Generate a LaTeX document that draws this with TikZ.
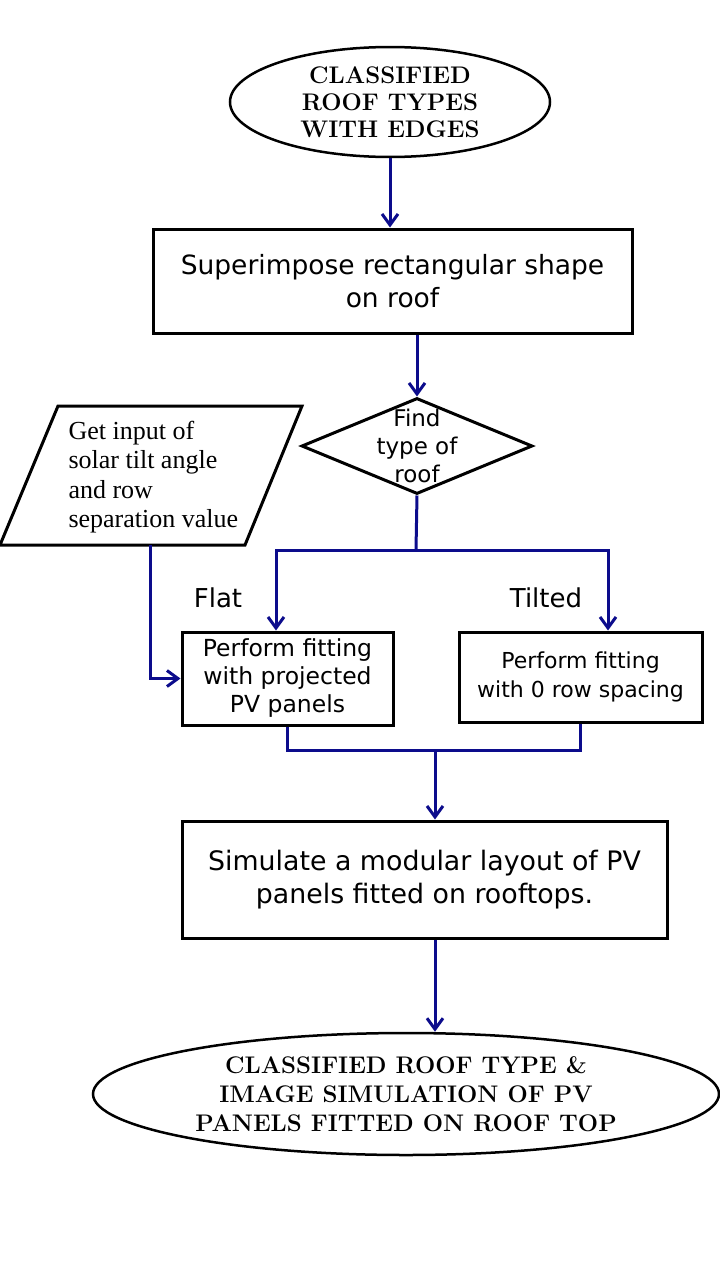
\documentclass[tikz,border=0pt]{standalone}
\usepackage{fontspec}
\usepackage{tikz}
\usetikzlibrary{arrows.meta,calc,positioning,shapes.geometric}
\newfontfamily\comicfont{DejaVu Sans}
\newfontfamily\timesfont{Liberation Serif}
\definecolor{flow}{RGB}{12,12,140}

\begin{document}
\begin{tikzpicture}[x=1pt,y=-1pt,
  box/.style={draw,line width=3pt,rectangle,align=center,font=\comicfont},
  term/.style={draw,line width=2.5pt,ellipse,align=center},
  conn/.style={draw=flow,line width=3pt},
  arr/.style={conn,-{Straight Barb[length=11pt,width=16pt,line width=3pt]}}]
  \useasboundingbox[fill=white] (0,0) rectangle (720,1280);
  % terminals and process boxes
  \node[term,minimum width=320pt,minimum height=70pt,font=\fontsize{24}{27}\selectfont\bfseries] (start) at (390,102) {CLASSIFIED\\ROOF TYPES\\WITH EDGES};
  \node[box,minimum width=479pt,minimum height=104pt,font=\comicfont\fontsize{26.5}{33}\selectfont] (sup) at (392.5,281) {Superimpose rectangular shape\\on roof};
  \node[draw,line width=3pt,diamond,minimum width=231pt,minimum height=96pt,inner sep=0pt] (find) at (417,446) {};
  \node[font=\comicfont\fontsize{23}{28}\selectfont,align=center] (findtxt) at (417,446) {Find\\type of\\roof};
  % input parallelogram
  \coordinate (inTL) at (58,406); \coordinate (inTR) at (302,406);
  \coordinate (inBR) at (245,545); \coordinate (inBL) at (0,545);
  \draw[line width=3pt,line join=miter] (inTL) -- (inTR) -- (inBR) -- (inBL) -- cycle;
  \node[font=\timesfont\fontsize{26}{29.5}\selectfont,align=left,anchor=west] (input) at (65,477) {Get input of\\solar tilt angle\\and row\\separation value};
  \coordinate (infoot) at (150,545);
  \node[box,minimum width=211pt,minimum height=93pt,font=\comicfont\fontsize{23.5}{28}\selectfont] (flat) at (287.5,678.5) {Perform fitting\\with projected\\PV panels};
  \node[box,minimum width=243pt,minimum height=90pt,font=\comicfont\fontsize{22}{29}\selectfont] (tilt) at (580.5,677) {Perform fitting\\with 0 row spacing};
  \node[box,minimum width=485pt,minimum height=117pt,font=\comicfont\fontsize{26.8}{33}\selectfont] (sim) at (424.5,879.5) {Simulate a modular layout of PV\\panels fitted on rooftops.};
  \node[term,minimum width=626pt,minimum height=122pt,font=\fontsize{24}{29}\selectfont\bfseries] (result) at (406,1094) {CLASSIFIED ROOF TYPE \&\\IMAGE SIMULATION OF PV\\PANELS FITTED ON ROOF TOP};
  \node[font=\comicfont\fontsize{26}{30}\selectfont] (flatlbl) at (218,598) {Flat};
  \node[font=\comicfont\fontsize{26}{30}\selectfont] (tiltlbl) at (546,598) {Tilted};
  % connectors
  \coordinate (split) at (416,550);
  \coordinate (merge) at (435,750);
  \draw[arr] (start.south) -- (start.south |- sup.north);
  \draw[arr] (find.north |- sup.south) -- (find.north);
  \draw[conn] (find.south) -- (split);
  \draw[arr] (split) -| (276,0 |- flat.north);
  \draw[arr] (split) -| (608,0 |- tilt.north);
  \draw[arr] (infoot) |- (flat.west);
  \draw[conn] (flat.south) |- (merge) -| (tilt.south);
  \draw[arr] (merge) -- (merge |- sim.north);
  \draw[arr] (merge |- sim.south) -- (merge |- result.north);
\end{tikzpicture}
\end{document}
